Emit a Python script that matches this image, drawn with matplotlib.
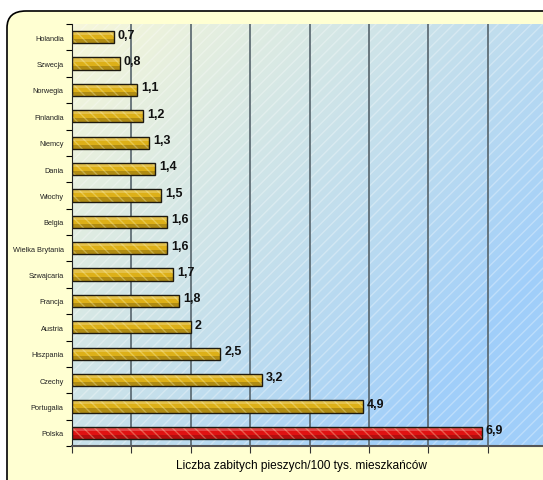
import numpy as np
import matplotlib.pyplot as plt
from matplotlib.patches import FancyBboxPatch, Rectangle

# dane
kraje = ["Holandia", "Szwecja", "Norwegia", "Finlandia", "Niemcy", "Dania", "Włochy",
         "Belgia", "Wielka Brytania", "Szwajcaria", "Francja", "Austria", "Hiszpania",
         "Czechy", "Portugalia", "Polska"]
wartosci = [0.7, 0.8, 1.1, 1.2, 1.3, 1.4, 1.5, 1.6, 1.6, 1.7, 1.8, 2.0, 2.5, 3.2, 4.9, 6.9]
etykiety = ["0,7", "0,8", "1,1", "1,2", "1,3", "1,4", "1,5", "1,6", "1,6", "1,7", "1,8",
            "2", "2,5", "3,2", "4,9", "6,9"]

plt.rcParams['font.family'] = ['Liberation Sans', 'DejaVu Sans']

fig = plt.figure(figsize=(5.43, 4.81), dpi=100)
fig.patch.set_facecolor('white')

# ramka tla
W, H = 543, 481
frame = FancyBboxPatch((7 / W, -0.05), 1.2, (481 - 12) / H + 0.05,
                       boxstyle="round,pad=0,rounding_size=0.035",
                       transform=fig.transFigure, facecolor='#FFFFD2',
                       edgecolor='black', linewidth=1.2, zorder=-5)
fig.patches.append(frame)

ax = fig.add_axes([72 / W, 1 - 447 / H, 1 - 72 / W, (447 - 25) / H])
ax.set_zorder(1)
ax.patch.set_alpha(0)
ax.set_xlim(0, 7.93)
n = len(kraje)
ax.set_ylim(n - 0.5, -0.5)

# gradient tla wykresu
gx, gy = np.meshgrid(np.linspace(0, 1, 200), np.linspace(0, 1, 200))
t = np.clip((gx * 0.8 + gy * 0.6) / 1.15, 0, 1)
c0 = np.array([0.97, 0.97, 0.85])
c1 = np.array([0.63, 0.81, 0.98])
img = c0[None, None, :] * (1 - t[..., None]) + c1[None, None, :] * t[..., None]
ax.imshow(img, extent=[0, 7.93, n - 0.5, -0.5], aspect='auto', zorder=0)
ax.add_patch(Rectangle((0, -0.5), 7.93, n, facecolor='none',
                       edgecolor=(1, 1, 1, 0.3), hatch='///', linewidth=0, zorder=0.5))

# siatka
for gxv in range(1, 8):
    ax.axvline(gxv, color='#56646c', linewidth=1.2, zorder=1)

y = np.arange(n)
h = 0.46
kolory = ['#DDB018'] * (n - 1) + ['#E01212']
ax.barh(y, wartosci, height=h, color=kolory, linewidth=0, zorder=2)
# jasniejsza gora, ciemniejszy dol
ax.barh(y - h / 3, wartosci, height=h / 3, color=(1, 1, 1, 0.22), linewidth=0, zorder=2.1)
ax.barh(y + h / 3, wartosci, height=h / 3, color=(0, 0, 0, 0.2), linewidth=0, zorder=2.1)
ax.barh(y, wartosci, height=h, color='none', edgecolor=(1, 1, 0.8, 0.3),
        hatch='\\\\\\', linewidth=0, zorder=2.2)
ax.barh(y, wartosci, height=h, color='none', edgecolor='#1e1a10', linewidth=1.0, zorder=2.3)

for yi, v, lab in zip(y, wartosci, etykiety):
    ax.text(v + 0.07, yi - 0.1, lab, va='center', ha='left', fontsize=9,
            fontweight='bold', color='#111111', zorder=3)

ax.set_yticks(y)
ax.set_yticklabels(kraje, fontsize=5.3, color='#222222')
ax.set_yticks(np.arange(-0.5, n, 1), minor=True)
ax.tick_params(axis='y', which='major', length=0, pad=6)
ax.tick_params(axis='y', which='minor', length=4, direction='out', width=0.8)
ax.set_xticks(range(0, 8))
ax.set_xticklabels([])
ax.tick_params(axis='x', length=5, direction='out', width=0.8, color='#333333')
ax.set_xlabel("Liczba zabitych pieszych/100 tys. mieszkańców", fontsize=8.6)
ax.xaxis.set_label_coords((302 - 72) / (W - 72), -0.03)

for s in ['top', 'right']:
    ax.spines[s].set_visible(False)
ax.spines['left'].set_color('#222222')
ax.spines['bottom'].set_color('#555555')
ax.spines['bottom'].set_linewidth(1.5)

fig.savefig('out.png', dpi=100)
